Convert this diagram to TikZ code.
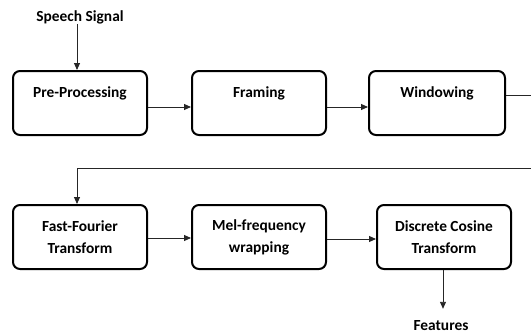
\documentclass[tikz,border=0pt]{standalone}
\usepackage{fontspec}
\setmainfont{Carlito}
\usetikzlibrary{arrows.meta}
\begin{document}
\begin{tikzpicture}[x=1pt,y=1pt,
  font=\fontsize{15.4}{22}\selectfont\bfseries,
  stage/.style={draw=black, line width=2pt, rounded corners=7pt,
    minimum width=134pt, minimum height=64pt, align=center, inner sep=0pt},
  lbl/.style={inner sep=0pt},
  arr/.style={draw=black!85, line width=0.9pt, -{Triangle[length=7pt,width=6pt]}},
  ln/.style={draw=black!85, line width=0.9pt}]
\useasboundingbox (0,0) rectangle (531,333);
% row 1
\node[stage] (pre) at (80,230) {Pre-Processing\\~};
\node[stage] (fra) at (259,230) {Framing\\~};
\node[stage, minimum width=136pt] (win) at (437,230) {Windowing\\~};
% row 2
\node[stage] (fft) at (80,96) {Fast-Fourier\\Transform};
\node[stage] (mel) at (259,96) {Mel-frequency\\wrapping};
\node[stage] (dct) at (444,96) {Discrete Cosine\\Transform};
% texts
\node[lbl] (sig) at (80,316) {Speech Signal};
\node[lbl, anchor=base] (feat) at (441,3) {Features};
\coordinate (c1) at (540,238);
\coordinate (c2) at (540,165);
% connectors
\draw[arr] ([xshift=-3pt]sig.south) -- ([xshift=-3pt]pre.north);
\draw[arr] ([yshift=-4pt]pre.east) -- ([yshift=-4pt]fra.west);
\draw[arr] ([yshift=-4pt]fra.east) -- ([yshift=-4pt]win.west);
\draw[arr] ([yshift=8pt]win.east) -- (c1) -- (c2) -| ([xshift=-3pt]fft.north);
\draw[arr] ([yshift=-1pt]fft.east) -- ([yshift=-1pt]mel.west);
\draw[arr] ([yshift=-2pt]mel.east) -- ([yshift=-2pt]dct.west);
\draw[arr, shorten >=11pt] ([xshift=-1pt]dct.south) -- ([xshift=-1pt]dct.south |- feat.north);
\end{tikzpicture}
\end{document}
